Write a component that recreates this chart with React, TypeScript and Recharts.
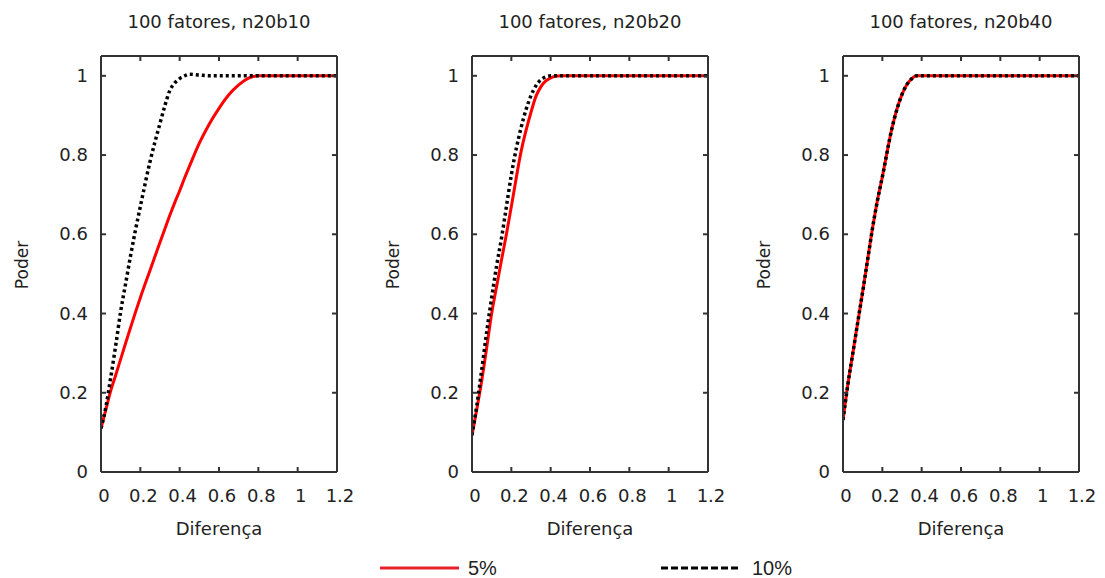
import React from 'react';
import { LineChart, Line, XAxis, YAxis } from 'recharts';

// Shared x grid (Diferença)
const xGrid = [0, 0.025, 0.05, 0.075, 0.1, 0.125, 0.15, 0.175, 0.2, 0.25, 0.3, 0.325, 0.35, 0.375, 0.4, 0.425, 0.45, 0.5, 0.55, 0.6, 0.65, 0.7, 0.75, 0.8, 0.9, 1.0, 1.1, 1.2];

const xTicks = [0, 0.2, 0.4, 0.6, 0.8, 1, 1.2];
const yTicks = [0, 0.2, 0.4, 0.6, 0.8, 1];

const titles = ['100 fatores, n20b10', '100 fatores, n20b20', '100 fatores, n20b40'];
const seriesNames = ['5%', '10%'];

// n20b10
const p1Red = [0.11, 0.158, 0.206, 0.245, 0.285, 0.325, 0.364, 0.403, 0.44, 0.51, 0.58, 0.614, 0.648, 0.68, 0.71, 0.742, 0.772, 0.83, 0.878, 0.918, 0.952, 0.977, 0.994, 1, 1, 1, 1, 1];
const p1Black = [0.11, 0.165, 0.24, 0.32, 0.405, 0.475, 0.545, 0.61, 0.67, 0.785, 0.88, 0.925, 0.963, 0.982, 0.993, 1.0, 1.004, 1.002, 1.0, 1, 1, 1, 1, 1, 1, 1, 1, 1];
// n20b20
const p2Red = [0.093, 0.16, 0.232, 0.315, 0.4, 0.468, 0.535, 0.6, 0.67, 0.81, 0.908, 0.948, 0.972, 0.987, 0.995, 0.999, 1, 1, 1, 1, 1, 1, 1, 1, 1, 1, 1, 1];
const p2Black = [0.093, 0.17, 0.26, 0.355, 0.44, 0.52, 0.59, 0.67, 0.75, 0.87, 0.95, 0.975, 0.99, 0.997, 1.0, 1, 1, 1, 1, 1, 1, 1, 1, 1, 1, 1, 1, 1];
// n20b40
const p3Red = [0.131, 0.222, 0.3, 0.378, 0.455, 0.535, 0.615, 0.685, 0.745, 0.87, 0.953, 0.978, 0.993, 1.0, 1, 1, 1, 1, 1, 1, 1, 1, 1, 1, 1, 1, 1, 1];
const p3Black = [0.131, 0.222, 0.3, 0.378, 0.455, 0.535, 0.615, 0.685, 0.745, 0.87, 0.953, 0.978, 0.993, 1.0, 1, 1, 1, 1, 1, 1, 1, 1, 1, 1, 1, 1, 1, 1];

const panels = [
  { title: titles[0], red: p1Red, black: p1Black },
  { title: titles[1], red: p2Red, black: p2Black },
  { title: titles[2], red: p3Red, black: p3Black },
];

const FONT = '"DejaVu Sans", Verdana, sans-serif';
const TEXT = '#222';
const AXIS = '#333';
const RED = '#ff0000';
const TICK_LEN = 5;

const BottomTick = (props: any) => {
  const { x, y, payload } = props;
  return (
    <g>
      <line x1={x} y1={y} x2={x} y2={y - TICK_LEN} stroke={AXIS} strokeWidth={2} />
      <text x={x + 3} y={y} dy={30} textAnchor="middle" fontFamily={FONT} fontSize={18} fill={TEXT}>
        {String(payload.value)}
      </text>
    </g>
  );
};

const TopTick = (props: any) => {
  const { x, y } = props;
  return <line x1={x} y1={y} x2={x} y2={y + TICK_LEN} stroke={AXIS} strokeWidth={2} />;
};

const LeftTick = (props: any) => {
  const { x, y, payload } = props;
  return (
    <g>
      <line x1={x} y1={y} x2={x + TICK_LEN} y2={y} stroke={AXIS} strokeWidth={2} />
      <text x={x - 13} y={y} dy={6} textAnchor="end" fontFamily={FONT} fontSize={18} fill={TEXT}>
        {String(payload.value)}
      </text>
    </g>
  );
};

const RightTick = (props: any) => {
  const { x, y } = props;
  return <line x1={x} y1={y} x2={x - TICK_LEN} y2={y} stroke={AXIS} strokeWidth={2} />;
};

function Panel({ title, red, black, left }: { title: string; red: number[]; black: number[]; left: number }) {
  const data = xGrid.map((x, i) => ({ x, r: red[i], b: black[i] }));
  return (
    <div style={{ position: 'absolute', left, top: 0 }}>
      <LineChart width={371} height={578} data={data} margin={{ top: 50, right: 30, bottom: 0, left: 0 }}>
        <XAxis
          xAxisId="b"
          dataKey="x"
          type="number"
          domain={[0, 1.2]}
          ticks={xTicks}
          orientation="bottom"
          height={106}
          tickSize={0}
          tickMargin={0}
          axisLine={{ stroke: AXIS, strokeWidth: 2 }}
          tickLine={false}
          tick={<BottomTick />}
          interval={0}
          allowDataOverflow
          label={{
            content: (p: any) => {
              const vb = p.viewBox || { x: 101, y: 472, width: 236 };
              return (
                <text x={vb.x + vb.width / 2} y={vb.y + 63} textAnchor="middle" fontFamily={FONT} fontSize={18} fill={TEXT}>
                  Diferença
                </text>
              );
            },
          }}
        />
        <XAxis
          xAxisId="t"
          dataKey="x"
          type="number"
          domain={[0, 1.2]}
          ticks={xTicks}
          orientation="top"
          height={6}
          tickSize={0}
          tickMargin={0}
          axisLine={{ stroke: AXIS, strokeWidth: 2 }}
          tickLine={false}
          tick={<TopTick />}
          interval={0}
          allowDataOverflow
          label={{
            content: (p: any) => {
              const vb = p.viewBox || { x: 101, y: 50, width: 236, height: 6 };
              return (
                <text x={vb.x + vb.width / 2} y={vb.y + vb.height - 28} textAnchor="middle" fontFamily={FONT} fontSize={18} fill={TEXT}>
                  {title}
                </text>
              );
            },
          }}
        />
        <YAxis
          yAxisId="l"
          type="number"
          domain={[0, 1.05]}
          ticks={yTicks}
          orientation="left"
          width={101}
          tickSize={0}
          tickMargin={0}
          axisLine={{ stroke: AXIS, strokeWidth: 2 }}
          tickLine={false}
          tick={<LeftTick />}
          interval={0}
          allowDataOverflow
          label={{
            content: (p: any) => {
              const vb = p.viewBox || { x: 0, y: 56, width: 101, height: 416 };
              const cx = vb.x + 28;
              const cy = vb.y + vb.height / 2 + 1;
              return (
                <text x={cx} y={cy} transform={`rotate(-90 ${cx} ${cy})`} textAnchor="middle" fontFamily={FONT} fontSize={17} fill={TEXT}>
                  Poder
                </text>
              );
            },
          }}
        />
        <YAxis
          yAxisId="r"
          type="number"
          domain={[0, 1.05]}
          ticks={yTicks}
          orientation="right"
          width={4}
          tickSize={0}
          tickMargin={0}
          axisLine={{ stroke: AXIS, strokeWidth: 2 }}
          tickLine={false}
          tick={<RightTick />}
          interval={0}
          allowDataOverflow
        />
        <Line
          xAxisId="b"
          yAxisId="l"
          type="monotone"
          dataKey="r"
          name={seriesNames[0]}
          stroke={RED}
          strokeWidth={3}
          dot={false}
          activeDot={false}
          isAnimationActive={false}
        />
        <Line
          xAxisId="b"
          yAxisId="l"
          type="monotone"
          dataKey="b"
          name={seriesNames[1]}
          stroke="#000"
          strokeWidth={3.5}
          strokeDasharray="3 3"
          dot={false}
          activeDot={false}
          isAnimationActive={false}
        />
      </LineChart>
    </div>
  );
}

function LegendBar() {
  return (
    <svg width={1105} height={578} style={{ position: 'absolute', left: 0, top: 0, pointerEvents: 'none' }}>
      <line x1={380} y1={568} x2={459} y2={568} stroke="#e8222a" strokeWidth={3} />
      <text x={468} y={575} fontFamily='"Liberation Sans", Arial, sans-serif' fontSize={20} fill={TEXT}>
        {seriesNames[0]}
      </text>
      <line x1={661} y1={568} x2={738} y2={568} stroke="#000" strokeWidth={3} strokeDasharray="7 3" />
      <text x={752} y={575} fontFamily='"Liberation Sans", Arial, sans-serif' fontSize={20} fill={TEXT}>
        {seriesNames[1]}
      </text>
    </svg>
  );
}

export default function App() {
  return (
    <div style={{ position: 'absolute', left: 0, top: 0, width: 1105, height: 578, background: '#fff', overflow: 'hidden' }}>
      {panels.map((p, i) => (
        <Panel key={i} title={p.title} red={p.red} black={p.black} left={371 * i} />
      ))}
      <LegendBar />
    </div>
  );
}
